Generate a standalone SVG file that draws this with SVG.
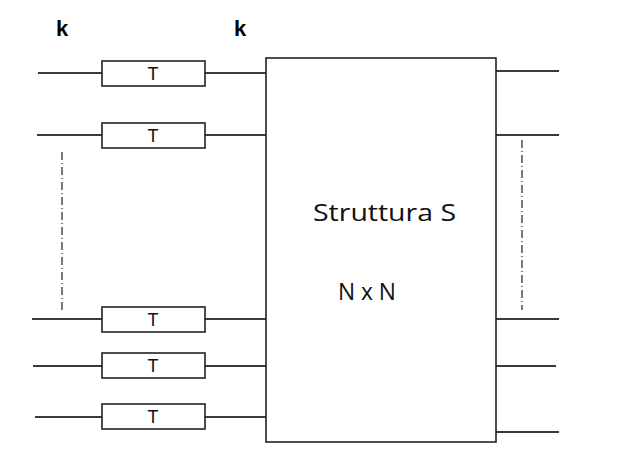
<svg xmlns="http://www.w3.org/2000/svg" width="617" height="463" viewBox="0 0 617 463">
<style>
.w{stroke:#3a3a3a;stroke-width:2;fill:none}
.b{fill:#fff;stroke:#222;stroke-width:1.6}
.d{stroke:#333;stroke-width:1.3;stroke-dasharray:8 3 1 3;fill:none}
.t{font-family:"Liberation Sans",Arial,sans-serif;font-size:18px;fill:#111;text-anchor:middle}
.k{font-family:"Liberation Sans",Arial,sans-serif;font-size:22px;font-weight:bold;fill:#000;text-anchor:middle}
.s{font-family:"Open Sans","Liberation Sans",sans-serif;font-size:24px;fill:#111;text-anchor:middle}
</style>
<rect width="617" height="463" fill="#fff"/>
<g id="connectors">
<line class="w" x1="38" y1="73" x2="102" y2="73"/>
<line class="w" x1="205" y1="73" x2="266" y2="73"/>
<line class="w" x1="37" y1="135" x2="102" y2="135"/>
<line class="w" x1="205" y1="135" x2="266" y2="135"/>
<line class="w" x1="32" y1="319" x2="102" y2="319"/>
<line class="w" x1="205" y1="319" x2="266" y2="319"/>
<line class="w" x1="33" y1="366" x2="102" y2="366"/>
<line class="w" x1="205" y1="366" x2="266" y2="366"/>
<line class="w" x1="35" y1="417" x2="102" y2="417"/>
<line class="w" x1="205" y1="417" x2="266" y2="417"/>
<line class="w" x1="496" y1="71" x2="559" y2="71"/>
<line class="w" x1="496" y1="135" x2="559" y2="135"/>
<line class="w" x1="496" y1="319" x2="559" y2="319"/>
<line class="w" x1="496" y1="366" x2="556" y2="366"/>
<line class="w" x1="496" y1="432" x2="559" y2="432"/>
<line class="d" x1="62" y1="152" x2="62" y2="312"/>
<line class="d" x1="522" y1="140" x2="522" y2="310"/>
</g>
<text class="k" x="62" y="36">k</text>
<text class="k" x="240" y="36">k</text>
<g id="S">
<rect class="b" x="266" y="58" width="230" height="384"/>
<text class="s" x="384.5" y="221" textLength="143" lengthAdjust="spacingAndGlyphs">Struttura S</text>
<text class="s" x="367" y="300" textLength="58" lengthAdjust="spacingAndGlyphs">N x N</text>
</g>
<g id="T1"><rect class="b" x="102" y="61" width="103" height="25"/><text class="t" x="153" y="80">T</text></g>
<g id="T2"><rect class="b" x="102" y="123" width="103" height="25"/><text class="t" x="153" y="142">T</text></g>
<g id="T3"><rect class="b" x="102" y="307" width="103" height="25"/><text class="t" x="153" y="326">T</text></g>
<g id="T4"><rect class="b" x="102" y="353" width="103" height="25"/><text class="t" x="153" y="372">T</text></g>
<g id="T5"><rect class="b" x="102" y="404" width="103" height="25"/><text class="t" x="153" y="423">T</text></g>
</svg>
